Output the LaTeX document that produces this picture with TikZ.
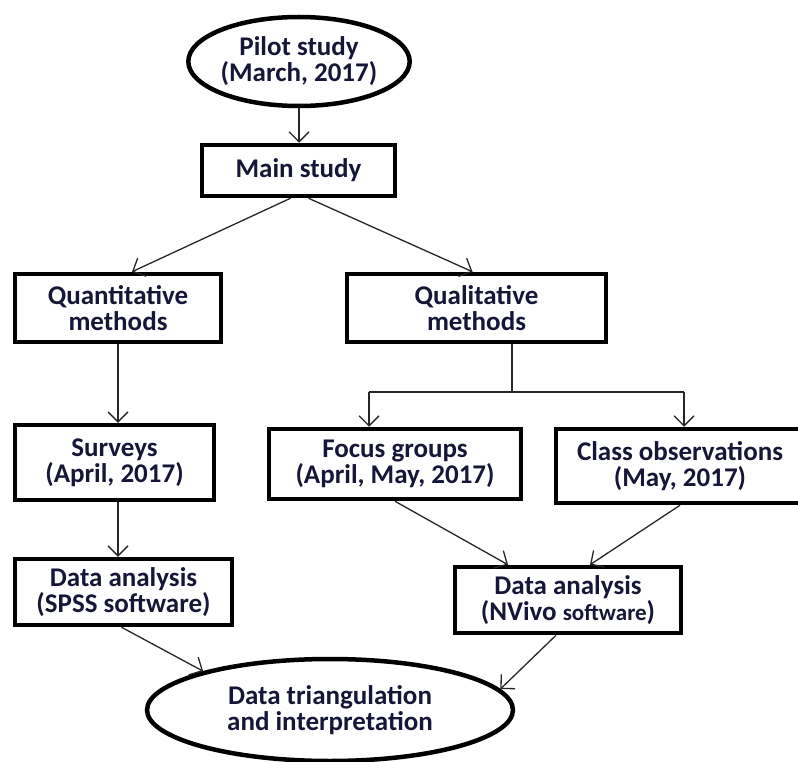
\documentclass[tikz,border=0pt]{standalone}
\usepackage{fontspec}
\setmainfont{Carlito}
\usetikzlibrary{arrows.meta,shapes.geometric}
\definecolor{inknavy}{RGB}{22,22,56}
\begin{document}
\begin{tikzpicture}[x=1pt,y=-1pt,
  every node/.style={font=\bfseries\fontsize{27}{26}\selectfont, text=inknavy,
    align=center, inner sep=0pt},
  stagebox/.style={draw=black, line width=4.5pt, rectangle},
  stageoval/.style={draw=black, line width=4.5pt, ellipse},
  link/.style={draw=black!85, line width=1.3pt},
  flow/.style={link, -{Straight Barb[length=10pt,width=20pt]}},
]
\clip (0,0) rectangle (798,762);

% stages of the study
\node[stageoval, minimum width=214, minimum height=89] (pilot) at (299,61.5)
  {Pilot study\\(March, 2017)};
\node[stagebox, minimum width=193, minimum height=51] (main) at (298.5,170.5)
  {Main study};
\node[stagebox, minimum width=206, minimum height=68] (quant) at (118,308)
  {Quantitative\\methods};
\node[stagebox, minimum width=259, minimum height=68] (qual) at (476.5,308)
  {Qualitative\\methods};
\node[stagebox, minimum width=199, minimum height=75] (surveys) at (114.5,462.5)
  {Surveys\\(April, 2017)};
\node[stagebox, minimum width=252, minimum height=70] (focus) at (395,464)
  {Focus groups\\(April, May, 2017)};
\node[stagebox, minimum width=248, minimum height=74] (class) at (680,466)
  {Class observations\\(May, 2017)};
\node[stagebox, minimum width=217, minimum height=66] (spss) at (123.5,592)
  {Data analysis\\(SPSS software)};
\node[stagebox, minimum width=226, minimum height=66] (nvivo) at (568,600)
  {Data analysis\\(NVivo {\fontsize{23}{26}\selectfont software})};
\node[stageoval, minimum width=366, minimum height=102] (final) at (330,710)
  {Data triangulation\\and interpretation};

% connectors
\draw[flow] (pilot.south) -- (pilot.south |- main.north);
\draw[flow] ([xshift=-8pt]main.south) -- ([xshift=14pt]quant.north);
\draw[flow] ([xshift=10pt]main.south) -- ([xshift=-4pt]qual.north);
\draw[flow] (quant.south) -- (quant.south |- surveys.north);

\coordinate (fork) at (512,392);
\coordinate (forkL) at (369,392);
\coordinate (forkR) at (684,392);
\draw[link] (qual.south -| fork) -- (fork);
\draw[link] (forkL) -- (forkR);
\draw[flow] (forkL) -- (forkL |- focus.north);
\draw[flow] (forkR) -- (forkR |- class.north);

\draw[flow] ([xshift=3.5pt]surveys.south) -- ([xshift=3.5pt]surveys.south |- spss.north);
\draw[flow] (focus.south) -- ([xshift=-60pt]nvivo.north);
\draw[flow] (class.south) -- ([xshift=22pt]nvivo.north);
\draw[flow] ([xshift=-2pt]spss.south) -- (final.163);
\draw[flow] ([xshift=-12pt]nvivo.south) -- (final.7);
\end{tikzpicture}
\end{document}
